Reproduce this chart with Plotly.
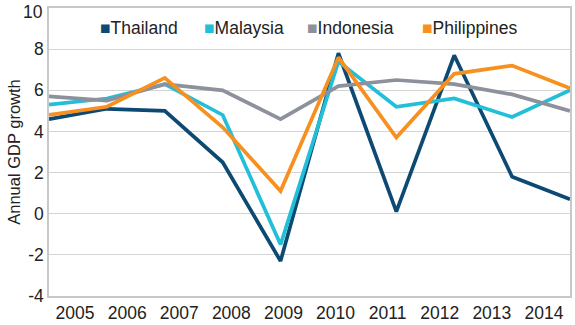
import plotly.graph_objects as go

years = ["2005", "2006", "2007", "2008", "2009", "2010", "2011", "2012", "2013", "2014"]
thailand = [4.6, 5.1, 5.0, 2.5, -2.3, 7.8, 0.1, 7.7, 1.8, 0.7]
malaysia = [5.3, 5.6, 6.3, 4.8, -1.5, 7.4, 5.2, 5.6, 4.7, 6.0]
indonesia = [5.7, 5.5, 6.3, 6.0, 4.6, 6.2, 6.5, 6.3, 5.8, 5.0]
philippines = [4.8, 5.2, 6.6, 4.2, 1.1, 7.6, 3.7, 6.8, 7.2, 6.1]
y_ticks = [-4, -2, 0, 2, 4, 6, 8, 10]
y_ticktext = ["-4", "-2", "0", "2", "4", "6", "8", "10"]

series = [
    ("Thailand", thailand, "#0d4a73"),
    ("Malaysia", malaysia, "#22bfd9"),
    ("Indonesia", indonesia, "#8c919b"),
    ("Philippines", philippines, "#f7901e"),
]
legend_x = [0.094, 0.294, 0.492, 0.713]

n = len(years)
xpos = list(range(n))
span = n - 1
tickvals = [(k + 0.5) * span / n for k in range(n)]

fig = go.Figure()
for name, vals, color in series:
    fig.add_trace(go.Scatter(x=xpos, y=vals, mode="lines", name=name,
                             line=dict(color=color, width=3.7),
                             showlegend=False, hoverinfo="skip"))

font = "Liberation Sans, Arial, sans-serif"
for (name, vals, color), lx in zip(series, legend_x):
    fig.add_annotation(xref="paper", yref="paper", x=lx, y=0.93, xanchor="left", yanchor="middle",
                       showarrow=False,
                       text=f'<span style="color:{color}">\u25A0</span>{name}',
                       font=dict(family=font, size=17.5, color="#222222"))

# top tick label drawn slightly lower so it stays inside the picture (as in the reference)
shown_text = y_ticktext[:-1] + [""]
fig.add_annotation(xref="paper", yref="y", x=0, y=y_ticks[-1], xanchor="right", yanchor="middle",
                   xshift=-4, yshift=-4, showarrow=False, text=y_ticktext[-1],
                   font=dict(family=font, size=17.5, color="#222222"))

fig.update_layout(
    width=575, height=325,
    margin=dict(l=49, r=5, t=8, b=29, autoexpand=False),
    plot_bgcolor="white", paper_bgcolor="white",
    font=dict(family=font, size=17.5, color="#333333"),
    showlegend=False,
    xaxis=dict(range=[0, span], tickvals=tickvals, ticktext=years, automargin=False,
               showgrid=False, zeroline=False, showline=True, linecolor="#c8c8c8",
               linewidth=1.5, mirror=True, ticks="", tickfont=dict(size=17.5, color="#222222")),
    yaxis=dict(range=[-4, 10], tickvals=y_ticks, ticktext=shown_text, automargin=False,
               showgrid=True, gridcolor="#d4d4d4", gridwidth=1.2,
               zeroline=False, showline=True, linecolor="#c8c8c8", linewidth=1.5, mirror=True,
               ticks="", tickfont=dict(size=17.5, color="#222222"),
               title=dict(text="Annual GDP growth", font=dict(size=16.5, color="#222222"), standoff=3)),
)

fig.write_html("out.html")
